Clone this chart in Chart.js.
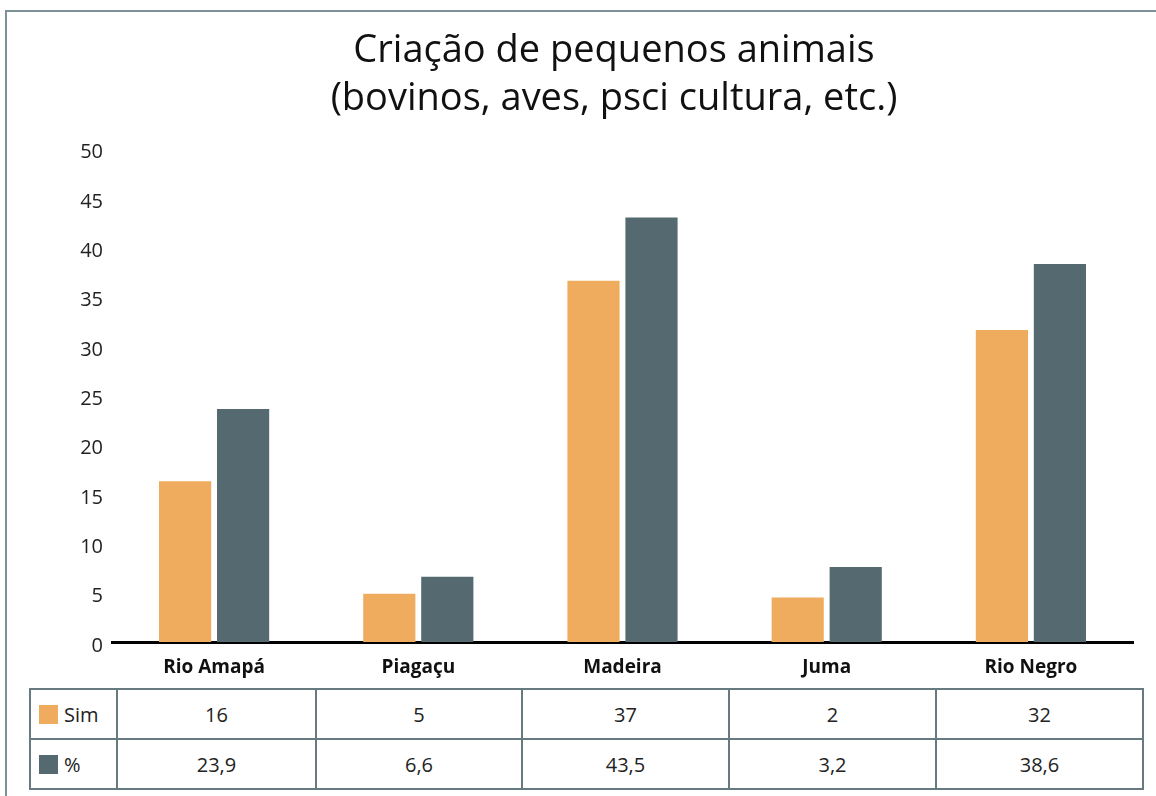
<!DOCTYPE html>
<html>
<head>
<meta charset="utf-8">
<script src="https://cdn.jsdelivr.net/npm/chart.js@4/dist/chart.umd.min.js"></script>
<style>
  html, body { margin: 0; padding: 0; background: #fff; }
  #wrap { position: relative; width: 1156px; height: 796px; overflow: hidden; font-family: "Open Sans", sans-serif; }
  #frameTop { position: absolute; left: 6px; top: 10px; width: 1150px; height: 2px; background: #7d9196; }
  #frameLeft { position: absolute; left: 5px; top: 10px; width: 2px; height: 786px; background: #7d9196; }
  #chartBox { position: absolute; left: 72px; top: 0; width: 1084px; height: 680px; }
  #dataTable { position: absolute; left: 29px; top: 688px; border-collapse: collapse; table-layout: fixed; width: 1113px; font-size: 20px; color: #222; }
  #dataTable td { border: 2px solid #667a7f; height: 50px; padding: 0; text-align: center; box-sizing: border-box; }
  #dataTable td.lab { text-align: left; padding-left: 8px; }
  .sw { display: inline-block; width: 19px; height: 19px; vertical-align: -2px; margin-right: 6px; }
</style>
</head>
<body>
<div id="wrap">
  <div id="frameTop"></div>
  <div id="frameLeft"></div>
  <div id="chartBox"><canvas id="myChart"></canvas></div>
  <table id="dataTable"></table>
</div>
<script>
// data
const categories = ["Rio Amapá", "Piagaçu", "Madeira", "Juma", "Rio Negro"];
const simBars = [16.3, 4.9, 36.6, 4.5, 31.6];
const pctBars = [23.6, 6.6, 43.0, 7.6, 38.3];
// values printed in the table under the chart
const simTable = ["16", "5", "37", "2", "32"];
const pctTable = ["23,9", "6,6", "43,5", "3,2", "38,6"];
const yTicks = [0, 5, 10, 15, 20, 25, 30, 35, 40, 45, 50];

const orange = "#f0ac5e";
const slate = "#546a70";

// table below the chart
const colWidths = [87, 199, 206, 207, 207, 207];
let table = document.getElementById("dataTable");
function addRow(label, color, values) {
  let tr = document.createElement("tr");
  let first = document.createElement("td");
  first.className = "lab";
  first.style.width = colWidths[0] + "px";
  first.innerHTML = '<span class="sw" style="background:' + color + '"></span>' + label;
  tr.appendChild(first);
  for (let i = 0; i < values.length; i++) {
    let td = document.createElement("td");
    td.style.width = colWidths[i + 1] + "px";
    td.textContent = values[i];
    tr.appendChild(td);
  }
  table.appendChild(tr);
}
addRow("Sim", orange, simTable);
addRow("%", slate, pctTable);

// nudge the title box so the title is centred like the original
const titleShift = {
  id: "titleShift",
  afterLayout: function (chart) {
    if (chart.titleBlock) {
      chart.titleBlock.left += 23;
    }
  },
};

let ctx = document.getElementById("myChart");
let myChart = new Chart(ctx, {
  type: "bar",
  plugins: [titleShift],
  data: {
    labels: categories,
    datasets: [
      {
        label: "Sim",
        data: simBars,
        backgroundColor: orange,
        barPercentage: 0.9,
        categoryPercentage: 0.568,
      },
      {
        label: "%",
        data: pctBars,
        backgroundColor: slate,
        barPercentage: 0.9,
        categoryPercentage: 0.568,
      },
    ],
  },
  options: {
    responsive: true,
    maintainAspectRatio: false,
    animation: false,
    layout: { padding: { right: 23, left: 0, top: 0, bottom: 0 } },
    plugins: {
      legend: { display: false },
      tooltip: { enabled: false },
      title: {
        display: true,
        text: ["Criação de pequenos animais", "(bovinos, aves, psci cultura, etc.)"],
        color: "#111",
        font: { family: "'Open Sans', sans-serif", size: 38, weight: "normal", lineHeight: 1.27 },
        padding: { top: 27, bottom: 25 },
      },
    },
    scales: {
      x: {
        grid: { display: false, drawTicks: false },
        border: { display: true, color: "#000", width: 3 },
        ticks: {
          color: "#111",
          padding: 14,
          font: { family: "'Open Sans', sans-serif", size: 19, weight: "bold" },
        },
        afterFit: function (axis) { axis.height = 38; },
      },
      y: {
        min: 0,
        max: 50,
        afterBuildTicks: function (axis) {
          axis.ticks = yTicks.map(function (v) { return { value: v }; });
        },
        grid: { display: false, drawTicks: false },
        border: { display: false },
        ticks: {
          color: "#222",
          padding: 9,
          labelOffset: 4,
          font: { family: "'Open Sans', sans-serif", size: 20, weight: "normal" },
        },
        afterFit: function (axis) { axis.width = 40; },
      },
    },
  },
});
</script>
</body>
</html>
